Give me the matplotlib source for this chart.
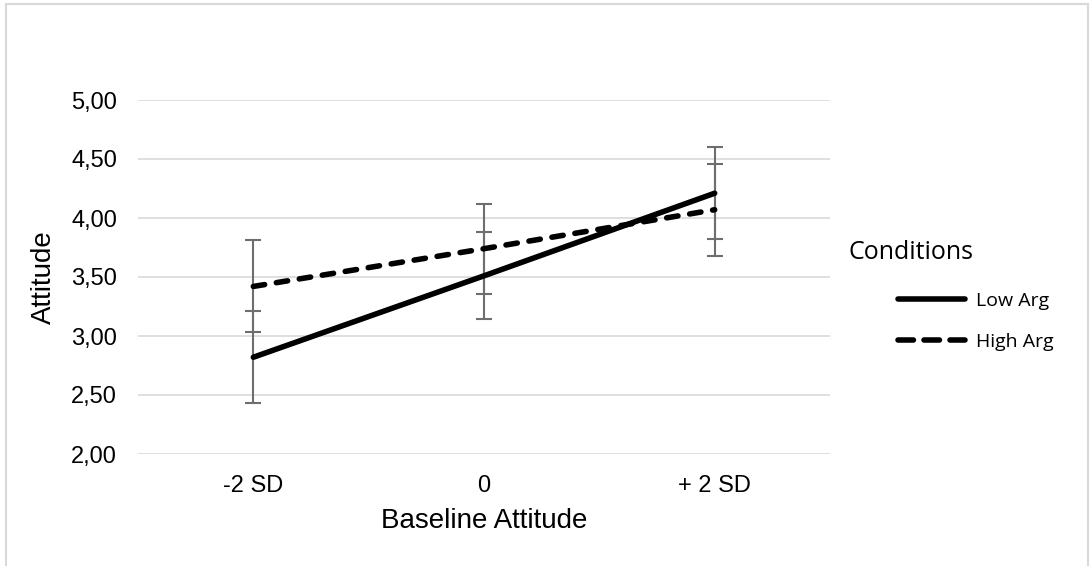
import matplotlib.pyplot as plt
from matplotlib.lines import Line2D
from matplotlib.patches import Rectangle
from matplotlib.ticker import FuncFormatter

categories = ['-2 SD', '0', '+ 2 SD']
low_arg = [2.82, 3.51, 4.21]
low_err = [0.39, 0.37, 0.39]
high_arg = [3.42, 3.74, 4.07]
high_err = [0.39, 0.38, 0.39]

plt.rcParams['font.family'] = ['Liberation Sans', 'DejaVu Sans']

fig = plt.figure(figsize=(10.91, 5.66), dpi=100)
ax = fig.add_axes([138/1091, 1-454/566, 692/1091, 354/566])

x = list(range(len(categories)))
err_color = '#6e6e6e'
lw = 4.0

ax.errorbar(x, low_arg, yerr=low_err, fmt='none', ecolor=err_color,
            elinewidth=1.5, capsize=6, capthick=1.5, zorder=2)
ax.errorbar(x, high_arg, yerr=high_err, fmt='none', ecolor=err_color,
            elinewidth=1.5, capsize=6, capthick=1.5, zorder=2)

ax.plot(x, low_arg, color='black', lw=lw, solid_capstyle='round', zorder=3)
ax.plot(x, high_arg, color='black', lw=lw, dashes=(2.06, 2.13),
        dash_capstyle='round', zorder=3)

ax.set_xlim(-0.5, 2.5)
ax.set_ylim(2, 5)
ax.set_yticks([2, 2.5, 3, 3.5, 4, 4.5, 5])
ax.yaxis.set_major_formatter(FuncFormatter(lambda v, p: f"{v:.2f}".replace('.', ',')))
ax.set_xticks(x)
ax.set_xticklabels(categories)
ax.tick_params(length=0, labelsize=17)
ax.tick_params(axis='y', pad=15)
ax.tick_params(axis='x', pad=15)
ax.grid(axis='y', color='#d9d9d9', lw=1.2)
ax.set_axisbelow(True)
for s in ax.spines.values():
    s.set_visible(False)

ax.set_xlabel('Baseline Attitude', fontsize=20, labelpad=8)
ax.set_ylabel('Attitude', fontsize=20, labelpad=10)

# legend handles drawn with slightly longer dashes, like the original
handles = [
    Line2D([], [], color='black', lw=lw, solid_capstyle='round'),
    Line2D([], [], color='black', lw=lw, dashes=(2.78, 1.9), dash_capstyle='round'),
]
leg = fig.legend(handles, ['Low Arg', 'High Arg'], loc='center left',
                 bbox_to_anchor=(898/1091, 1-321.5/566),
                 frameon=False, handlelength=3.47, handletextpad=0.54,
                 labelspacing=1.2, borderpad=0, borderaxespad=0,
                 prop={'family': 'Open Sans', 'size': 14})
fig.text(848/1091, 1-252/566, 'Conditions', fontsize=18, family='Open Sans',
         va='center', ha='left')

fig.patches.append(Rectangle((6/1091, -0.05), 1082/1091, 1.05 - 4/566,
                             transform=fig.transFigure, fill=False,
                             edgecolor='#d9d9d9', lw=1.5))

fig.savefig('out.png', dpi=100)
